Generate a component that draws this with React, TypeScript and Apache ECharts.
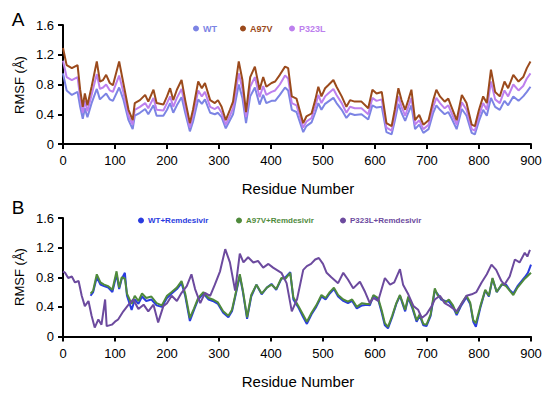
import React, { useEffect, useRef } from "react";
import * as echarts from "echarts";

// ---------- Panel A ----------
const residuesA = [0,7,17,28,33,38,42,47,55,65,71,77,83,90,96,108,116,126,134,138,148,158,164,174,180,193,200,206,212,219,228,235,244,250,260,267,273,283,292,298,305,313,321,327,338,345,352,360,369,378,385,391,401,408,417,427,433,440,449,462,468,478,485,491,497,504,510,520,526,536,545,552,561,574,587,595,603,613,622,632,638,645,651,658,664,670,677,685,693,703,712,718,725,734,741,747,757,767,776,786,792,800,808,815,823,831,840,849,856,866,876,885,892,899];
const a97v = [1.29,1.06,1.02,1.06,0.73,0.50,0.68,0.52,0.77,1.11,0.84,0.86,0.93,0.82,0.79,1.11,0.82,0.46,0.32,0.55,0.59,0.66,0.57,0.73,0.55,0.53,0.64,0.75,0.59,0.73,0.86,0.59,0.28,0.46,0.84,0.75,0.82,0.59,0.55,0.59,0.50,0.32,0.46,0.57,1.11,0.86,0.43,0.90,1.04,0.73,0.90,0.77,0.82,0.84,0.93,1.04,1.02,0.64,0.61,0.28,0.37,0.41,0.59,0.77,0.64,0.75,0.79,0.86,0.77,0.64,0.50,0.59,0.57,0.57,0.48,0.73,0.68,0.70,0.28,0.24,0.46,0.75,0.59,0.46,0.59,0.73,0.32,0.39,0.26,0.32,0.59,0.73,0.64,0.57,0.61,0.50,0.32,0.66,0.55,0.26,0.24,0.46,0.64,0.55,1.00,0.70,0.64,0.84,0.75,0.93,0.84,0.90,1.02,1.11];
const p323l = [1.12,0.90,0.86,0.90,0.62,0.42,0.58,0.44,0.66,0.94,0.74,0.76,0.80,0.72,0.70,0.92,0.70,0.38,0.26,0.46,0.50,0.55,0.48,0.62,0.46,0.45,0.55,0.64,0.50,0.62,0.74,0.50,0.22,0.38,0.72,0.64,0.70,0.50,0.47,0.50,0.42,0.26,0.38,0.48,0.95,0.74,0.36,0.77,0.90,0.63,0.78,0.66,0.70,0.72,0.80,0.92,0.88,0.55,0.52,0.22,0.30,0.35,0.50,0.66,0.55,0.64,0.68,0.74,0.66,0.55,0.42,0.50,0.48,0.48,0.40,0.62,0.58,0.60,0.22,0.18,0.38,0.64,0.50,0.38,0.50,0.62,0.26,0.32,0.20,0.26,0.50,0.62,0.55,0.48,0.52,0.42,0.26,0.56,0.46,0.20,0.18,0.38,0.55,0.46,0.84,0.60,0.55,0.72,0.64,0.80,0.72,0.78,0.88,0.95];
const wt = [0.95,0.72,0.66,0.70,0.50,0.34,0.48,0.36,0.55,0.74,0.60,0.64,0.68,0.60,0.58,0.76,0.60,0.32,0.20,0.38,0.42,0.47,0.40,0.52,0.38,0.38,0.46,0.55,0.42,0.52,0.63,0.42,0.17,0.30,0.60,0.54,0.60,0.42,0.40,0.42,0.36,0.21,0.32,0.40,0.80,0.62,0.28,0.64,0.76,0.53,0.66,0.55,0.58,0.58,0.66,0.76,0.72,0.46,0.43,0.16,0.24,0.29,0.42,0.55,0.46,0.54,0.57,0.62,0.55,0.46,0.35,0.41,0.39,0.40,0.33,0.52,0.49,0.50,0.16,0.13,0.31,0.54,0.42,0.31,0.42,0.52,0.20,0.26,0.15,0.20,0.42,0.52,0.46,0.40,0.43,0.35,0.20,0.47,0.38,0.15,0.13,0.31,0.46,0.38,0.62,0.50,0.46,0.58,0.52,0.64,0.58,0.64,0.70,0.77];

// ---------- Panel B ----------
const residuesP323LRem = [0,4,10,17,23,30,36,42,49,55,61,68,74,81,84,94,100,106,116,126,135,145,155,164,174,183,193,200,209,219,228,238,247,254,264,273,283,292,302,312,321,331,340,347,356,366,375,385,395,404,420,430,440,450,462,469,477,485,492,500,507,516,529,539,548,558,571,581,590,597,606,619,629,637,648,654,664,674,683,690,699,709,715,725,734,744,757,767,776,786,795,805,815,824,833,843,849,859,869,878,888,893,898];
const p323lRem = [0.88,0.86,0.79,0.81,0.73,0.75,0.55,0.41,0.48,0.28,0.12,0.23,0.16,0.50,0.14,0.16,0.20,0.23,0.34,0.43,0.50,0.37,0.43,0.34,0.43,0.19,0.41,0.45,0.55,0.48,0.59,0.68,0.84,0.64,0.45,0.59,0.55,0.70,0.88,1.18,1.00,0.62,1.12,1.00,1.07,1.00,1.02,0.93,0.98,0.93,0.86,0.72,0.34,0.50,0.90,0.95,0.98,1.04,1.06,0.98,0.86,0.80,0.72,0.86,0.77,0.65,0.74,0.60,0.45,0.52,0.48,0.79,0.70,0.73,0.91,0.70,0.57,0.41,0.36,0.25,0.30,0.41,0.50,0.55,0.45,0.41,0.34,0.45,0.55,0.57,0.60,0.73,0.84,0.97,0.90,0.75,0.70,0.81,1.04,1.00,1.13,1.08,1.17];
const residuesRem = [53,58,65,72,79,87,95,103,108,113,119,123,132,138,145,152,160,170,180,190,200,209,219,228,235,244,252,260,270,280,288,298,308,318,325,331,340,346,354,362,372,382,392,401,410,420,428,437,443,452,462,469,478,487,497,505,513,521,529,539,548,556,565,575,584,590,597,606,613,619,625,633,641,648,654,658,664,672,680,686,693,699,707,715,721,727,735,742,750,757,766,776,783,789,794,803,812,819,826,834,844,852,859,866,874,881,888,894,900];
const a97vRem = [0.58,0.62,0.84,0.73,0.70,0.68,0.63,0.88,0.66,0.80,0.78,0.58,0.44,0.55,0.48,0.58,0.52,0.54,0.45,0.42,0.55,0.60,0.66,0.75,0.58,0.25,0.38,0.52,0.60,0.52,0.50,0.46,0.34,0.28,0.36,0.55,0.84,0.62,0.26,0.56,0.70,0.58,0.66,0.70,0.64,0.79,0.78,0.86,0.53,0.42,0.29,0.20,0.32,0.42,0.56,0.52,0.60,0.66,0.56,0.50,0.47,0.50,0.40,0.45,0.44,0.44,0.56,0.52,0.35,0.18,0.13,0.28,0.45,0.56,0.44,0.36,0.54,0.40,0.22,0.30,0.17,0.16,0.30,0.65,0.55,0.52,0.46,0.50,0.42,0.31,0.44,0.55,0.46,0.22,0.18,0.42,0.63,0.55,0.79,0.60,0.71,0.68,0.62,0.56,0.66,0.72,0.78,0.82,0.86];
const wtRem = [0.55,0.60,0.80,0.70,0.68,0.66,0.60,0.84,0.64,0.78,0.86,0.55,0.36,0.50,0.44,0.54,0.48,0.50,0.42,0.40,0.52,0.58,0.64,0.72,0.55,0.21,0.36,0.50,0.58,0.50,0.48,0.44,0.32,0.26,0.34,0.53,0.82,0.60,0.24,0.54,0.70,0.57,0.66,0.71,0.63,0.78,0.80,0.87,0.50,0.40,0.26,0.17,0.30,0.40,0.54,0.50,0.58,0.64,0.54,0.48,0.45,0.48,0.38,0.42,0.43,0.42,0.55,0.50,0.32,0.15,0.11,0.26,0.44,0.55,0.42,0.34,0.52,0.38,0.20,0.28,0.15,0.14,0.28,0.62,0.57,0.50,0.48,0.47,0.40,0.29,0.42,0.53,0.44,0.20,0.13,0.40,0.62,0.54,0.78,0.60,0.70,0.70,0.63,0.58,0.68,0.74,0.80,0.86,0.97];

const xTicks = [0, 100, 200, 300, 400, 500, 600, 700, 800, 900];
const yTicks = [0, 0.4, 0.8, 1.2, 1.6];

const FONT = "'Liberation Sans', Arial, Helvetica, sans-serif";

const pair = (xs: number[], ys: number[]) => xs.map((x, i) => [x, ys[i]]);

export default function App() {
  const ref = useRef<HTMLDivElement>(null);
  useEffect(() => {
    if (!ref.current) return;
    const chart = echarts.init(ref.current, undefined, { renderer: "svg" });

    const xAxisBase = (gridIndex: number) => ({
      type: "value",
      gridIndex,
      min: xTicks[0],
      max: xTicks[xTicks.length - 1],
      interval: 100,
      splitLine: { show: false },
      axisLine: { show: true, onZero: false, lineStyle: { color: "#000", width: 2 } },
      axisTick: { show: true, length: 5, lineStyle: { color: "#000", width: 2 } },
      axisLabel: { color: "#000", fontSize: 13, fontFamily: FONT, margin: 10 },
    });
    const yAxisBase = (gridIndex: number) => ({
      type: "value",
      gridIndex,
      min: yTicks[0],
      max: yTicks[yTicks.length - 1],
      interval: 0.4,
      splitLine: { show: false },
      axisLine: { show: true, lineStyle: { color: "#000", width: 2 } },
      axisTick: { show: true, length: 5, lineStyle: { color: "#000", width: 2 } },
      axisLabel: {
        color: "#000",
        fontSize: 13,
        fontFamily: FONT,
        margin: 9,
        formatter: (v: number) => (v === 0 ? "0" : v.toFixed(1)),
      },
    });

    const line = (name: string, data: number[][], color: string, xi: number) => ({
      name,
      type: "line",
      xAxisIndex: xi,
      yAxisIndex: xi,
      data,
      showSymbol: false,
      symbol: "circle",
      itemStyle: { color },
      lineStyle: { color, width: 2 },
    });

    const leg = (name: string, color: string, left: number, top: number, fs: number) => ({
      data: [{ name, textStyle: { color } }],
      left,
      top,
      padding: 0,
      icon: "circle",
      itemWidth: 6,
      itemHeight: 6,
      itemGap: 5,
      textStyle: { fontSize: fs, fontWeight: "bold", fontFamily: FONT, padding: [0, 0, 0, -1] },
    });

    const cWT = "#7c84e4";
    const cA97V = "#9b4a1c";
    const cP323L = "#bd80ee";
    const cWTR = "#2a3ce0";
    const cA97VR = "#4f8a3c";
    const cP323LR = "#6c4a9e";

    chart.setOption({
      animation: false,
      backgroundColor: "#fff",
      grid: [
        { left: 63, top: 25, width: 468, height: 119 },
        { left: 63, top: 218, width: 468, height: 118.5 },
      ],
      xAxis: [xAxisBase(0), xAxisBase(1)],
      yAxis: [yAxisBase(0), yAxisBase(1)],
      legend: [
        leg("WT", cWT, 193, 24, 9),
        leg("A97V", cA97V, 240, 24, 9),
        leg("P323L", cP323L, 289, 24, 9),
        leg("WT+Remdesivir", cWTR, 138, 216.5, 8),
        leg("A97V+Remdesivir", cA97VR, 236, 216.5, 8),
        leg("P323L+Remdesivir", cP323LR, 340, 216.5, 8),
      ],
      series: [
        line("WT", pair(residuesA, wt), cWT, 0),
        line("P323L", pair(residuesA, p323l), cP323L, 0),
        line("A97V", pair(residuesA, a97v), cA97V, 0),
        line("WT+Remdesivir", pair(residuesRem, wtRem), cWTR, 1),
        line("A97V+Remdesivir", pair(residuesRem, a97vRem), cA97VR, 1),
        line("P323L+Remdesivir", pair(residuesP323LRem, p323lRem), cP323LR, 1),
      ],
      graphic: [
        { type: "text", x: 18, y: 19, style: { text: "A", fontSize: 19, fontFamily: FONT, fill: "#000", textAlign: "center", textVerticalAlign: "middle" } },
        { type: "text", x: 18, y: 207, style: { text: "B", fontSize: 19, fontFamily: FONT, fill: "#000", textAlign: "center", textVerticalAlign: "middle" } },
        { type: "text", x: 19, y: 85, rotation: Math.PI / 2, style: { text: "RMSF (Å)", fontSize: 13, fontFamily: FONT, fill: "#000", textAlign: "center", textVerticalAlign: "middle" } },
        { type: "text", x: 19, y: 277, rotation: Math.PI / 2, style: { text: "RMSF (Å)", fontSize: 13, fontFamily: FONT, fill: "#000", textAlign: "center", textVerticalAlign: "middle" } },
        { type: "text", x: 298, y: 188, style: { text: "Residue Number", fontSize: 15, fontFamily: FONT, fill: "#000", textAlign: "center", textVerticalAlign: "middle" } },
        { type: "text", x: 298, y: 381, style: { text: "Residue Number", fontSize: 15, fontFamily: FONT, fill: "#000", textAlign: "center", textVerticalAlign: "middle" } },
      ],
    });
    return () => chart.dispose();
  }, []);
  return (
    <div
      ref={ref}
      style={{ position: "fixed", left: 0, top: 0, width: 550, height: 396, background: "#fff" }}
    />
  );
}
